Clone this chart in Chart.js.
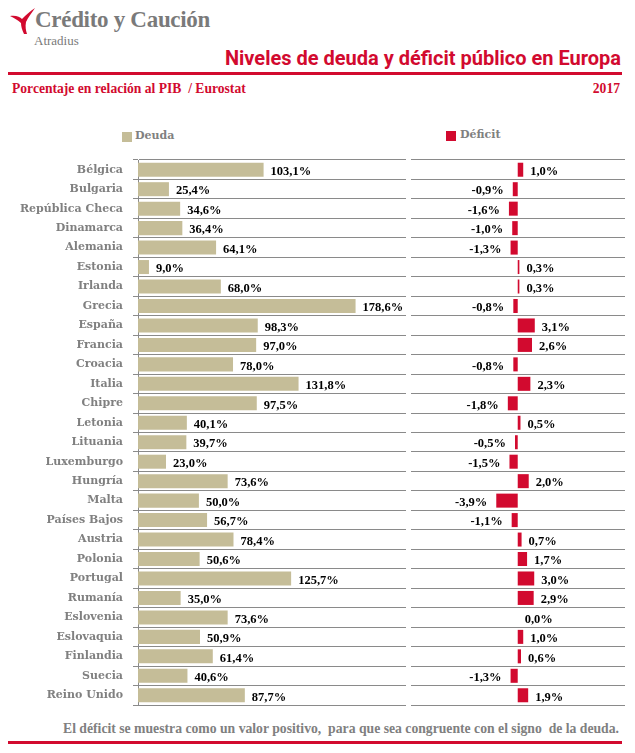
<!DOCTYPE html>
<html>
<head>
<meta charset="utf-8">
<script src="https://cdn.jsdelivr.net/npm/chart.js@4.4.1/dist/chart.umd.min.js"></script>
<style>
  body { margin: 0; background: #fff; width: 635px; height: 753px; position: relative; overflow: hidden; }
  .abs { position: absolute; white-space: nowrap; }
  .red { color: #d20a2f; }
  .grey { color: #808080; }
  #left { position: absolute; left: 0; top: 150px; }
  #right { position: absolute; left: 405px; top: 150px; }
</style>
</head>
<body>
<svg class="abs" style="left:8px;top:6px" width="30" height="30" viewBox="0 0 30 30">
  <path d="M2 10 C8 9 12 11 14 13 C18 9 22 5 27 2 C24 7 20 11 18 16 C17 21 18 25 19 28 L16 28 C14 24 13 20 13 17 C10 14 6 12 2 10 Z" fill="#d20a2f"/>
</svg>
<div class="abs" style="left:35px;top:7px;font:bold 23px 'Liberation Serif';color:#7a7a7a;letter-spacing:-0.3px">Crédito y Caución</div>
<div class="abs" style="left:34px;top:33px;font:13px 'Liberation Serif';color:#7a7a7a">Atradius</div>
<div class="abs red" style="right:14px;top:46px;font:bold 20px 'Liberation Sans Narrow','Roboto';">Niveles de deuda y déficit público en Europa</div>
<div class="abs" style="left:8px;top:72px;width:614px;height:3px;background:#d20a2f"></div>
<div class="abs red" style="left:12px;top:81px;font:bold 13.6px 'Liberation Serif'">Porcentaje en relación al PIB&nbsp; / Eurostat</div>
<div class="abs red" style="right:15px;top:81px;font:bold 13.6px 'Liberation Serif'">2017</div>

<div class="abs" style="left:122px;top:132px;width:10px;height:10px;background:#c5bd98"></div>
<div class="abs grey" style="left:135px;top:129px;font:bold 11px 'DejaVu Serif'">Deuda</div>
<div class="abs" style="left:446px;top:131px;width:10px;height:10px;background:#d20a2f"></div>
<div class="abs grey" style="left:460px;top:128px;font:bold 11px 'DejaVu Serif'">Déficit</div>

<canvas id="left" width="410" height="565"></canvas>
<canvas id="right" width="230" height="565"></canvas>

<div class="abs grey" style="left:63px;top:721px;font:bold 13.7px 'Liberation Serif'">El déficit se muestra como un valor positivo,&nbsp; para que sea congruente con el signo&nbsp; de la deuda.</div>
<div class="abs" style="left:8px;top:741px;width:614px;height:3px;background:#d20a2f"></div>

<script>
const countries = ['Bélgica', 'Bulgaria', 'República Checa', 'Dinamarca', 'Alemania', 'Estonia', 'Irlanda',
  'Grecia', 'España', 'Francia', 'Croacia', 'Italia', 'Chipre', 'Letonia', 'Lituania', 'Luxemburgo',
  'Hungría', 'Malta', 'Países Bajos', 'Austria', 'Polonia', 'Portugal', 'Rumanía', 'Eslovenia',
  'Eslovaquia', 'Finlandia', 'Suecia', 'Reino Unido'];
const deuda = [103.1, 25.4, 34.6, 36.4, 64.1, 9.0, 68.0, 178.6, 98.3, 97.0, 78.0, 131.8, 97.5, 40.1,
  39.7, 23.0, 73.6, 50.0, 56.7, 78.4, 50.6, 125.7, 35.0, 73.6, 50.9, 61.4, 40.6, 87.7];
const deficit = [1.0, -0.9, -1.6, -1.0, -1.3, 0.3, 0.3, -0.8, 3.1, 2.6, -0.8, 2.3, -1.8, 0.5,
  -0.5, -1.5, 2.0, -3.9, -1.1, 0.7, 1.7, 3.0, 2.9, 0.0, 1.0, 0.6, -1.3, 1.9];

const gridColor = '#8a8a8a';

const valueLabels = {
  id: 'valueLabels',
  afterDatasetsDraw(chart) {
    const ctx = chart.ctx;
    const meta = chart.getDatasetMeta(0);
    const data = chart.data.datasets[0].data;
    ctx.save();
    ctx.font = "bold 12.5px 'Liberation Serif'";
    ctx.fillStyle = '#000';
    ctx.textBaseline = 'middle';
    meta.data.forEach((bar, i) => {
      const v = data[i];
      const txt = v.toFixed(1).replace('.', ',') + '%';
      if (v >= 0) {
        ctx.textAlign = 'left';
        ctx.fillText(txt, bar.x + 7, bar.y + 2);
      } else {
        ctx.textAlign = 'right';
        ctx.fillText(txt, bar.x - 9, bar.y + 2);
      }
    });
    ctx.restore();
  }
};

new Chart(document.getElementById('left'), {
  type: 'bar',
  data: {
    labels: countries,
    datasets: [{ data: deuda, backgroundColor: '#c5bd98', barPercentage: 0.72, categoryPercentage: 1 }]
  },
  options: {
    indexAxis: 'y',
    responsive: false,
    animation: false,
    layout: { padding: { top: 10, bottom: 10, right: 4 } },
    plugins: { legend: { display: false }, tooltip: { enabled: false } },
    scales: {
      x: { display: false, min: 0, max: 220 },
      y: {
        afterFit(scale) {
          scale.width = 138;
          scale.paddingTop = 0;
          scale.paddingBottom = 0;
        },
        grid: { color: gridColor, lineWidth: 1, tickLength: 5 },
        border: { color: gridColor, width: 1 },
        ticks: { color: '#808080', padding: 10, autoSkip: false, font: { family: 'DejaVu Serif', weight: 'bold', size: 11 } }
      }
    }
  },
  plugins: [valueLabels]
});

new Chart(document.getElementById('right'), {
  type: 'bar',
  data: {
    labels: countries,
    datasets: [{ data: deficit, backgroundColor: '#d20a2f', barPercentage: 0.72, categoryPercentage: 1 }]
  },
  options: {
    indexAxis: 'y',
    responsive: false,
    animation: false,
    layout: { padding: { top: 10, bottom: 10, right: 10 } },
    plugins: { legend: { display: false }, tooltip: { enabled: false } },
    scales: {
      x: { display: false, min: -19.4, max: 19.5 },
      y: {
        afterFit(scale) { scale.width = 6; },
        grid: { color: gridColor, lineWidth: 1, drawTicks: false },
        border: { display: false },
        ticks: { display: false, autoSkip: false }
      }
    }
  },
  plugins: [valueLabels]
});
</script>
</body>
</html>
